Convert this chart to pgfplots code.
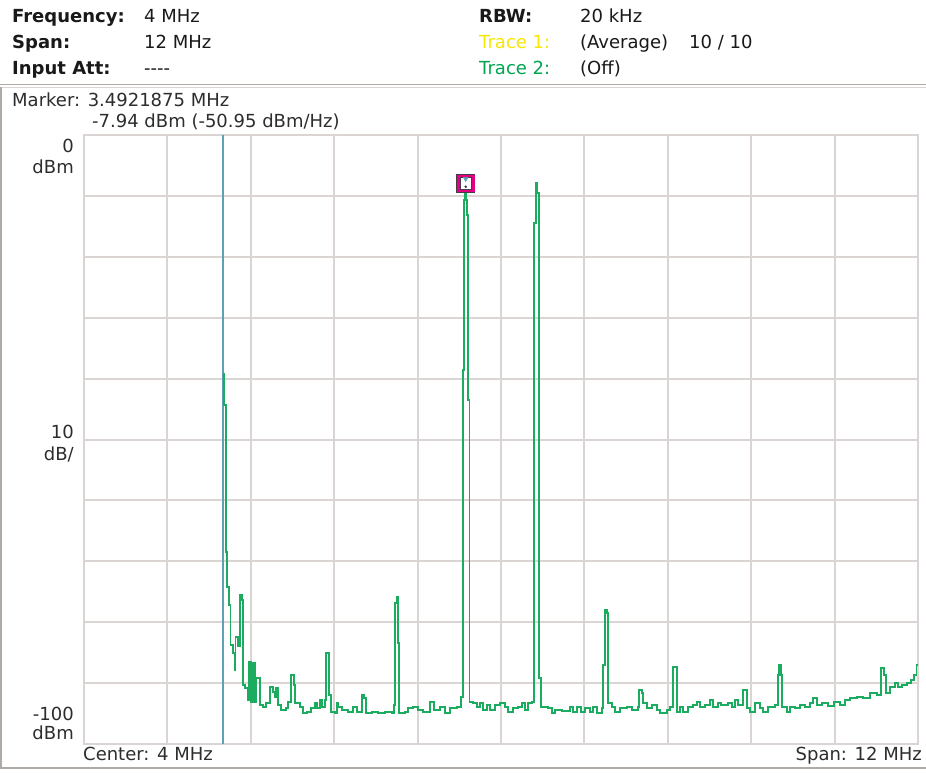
\documentclass[border=0pt]{standalone}
\usepackage{pgfplots}
\pgfplotsset{compat=1.18}
\usepackage{fontspec}
\setmainfont{DejaVu Sans}
\definecolor{gridc}{RGB}{218,213,210}
\definecolor{framec}{RGB}{175,170,166}
\definecolor{tracec}{RGB}{28,172,95}
\definecolor{dccol}{RGB}{95,160,182}
\definecolor{tr1}{RGB}{246,232,0}
\definecolor{tr2}{RGB}{0,165,80}
\definecolor{mkmag}{RGB}{228,0,132}
\definecolor{boxdark}{RGB}{70,60,70}
\definecolor{txt}{RGB}{25,25,25}
\definecolor{txt2}{RGB}{45,45,45}
\begin{document}
\begin{tikzpicture}[x=1pt,y=1pt]
\useasboundingbox (0,0) rectangle (926,772);
\fill[white] (0,0) rectangle (926,772);
\fontsize{18}{21}\selectfont
% header
\begin{scope}[every node/.style={inner sep=0pt,text=txt}]
\node[anchor=base west] at (12,749.5) {\bfseries Frequency:};
\node[anchor=base west] at (144,749.5) {4 MHz};
\node[anchor=base west] at (12,723.5) {\bfseries Span:};
\node[anchor=base west] at (144,723.5) {12 MHz};
\node[anchor=base west] at (12,697.5) {\bfseries Input Att:};
\node[anchor=base west] at (144,697.5) {-{}-{}-{}-};
\node[anchor=base west] at (479,749.5) {\bfseries RBW:};
\node[anchor=base west] at (580,749.5) {20 kHz};
\node[anchor=base west,text=tr1] at (479,723.5) {Trace 1:};
\node[anchor=base west] at (580,723.5) {(Average)};
\node[anchor=base west] at (689,723.5) {10 / 10};
\node[anchor=base west,text=tr2] at (479,697.5) {Trace 2:};
\node[anchor=base west] at (580,697.5) {(Off)};
\end{scope}
% frame
\draw[framec, line width=1pt] (0,687.5) -- (926,687.5);
\draw[gridc, line width=1.2pt] (0,684.5) -- (926,684.5);
\draw[framec, line width=1.5pt] (1,685) -- (1,4) -- (926,4);
% marker text and labels
\begin{scope}[every node/.style={inner sep=0pt,text=txt2}]
\node[anchor=base west] at (12,665.5) {Marker: 3.4921875 MHz};
\node[anchor=base west] at (92,644.5) {-7.94 dBm (-50.95 dBm/Hz)};
\node[anchor=base east] at (74,619) {0};
\node[anchor=base east] at (74,598) {dBm};
\node[anchor=base east] at (74,334) {10};
\node[anchor=base east] at (74,312) {dB/};
\node[anchor=base east] at (74,52) {-100};
\node[anchor=base east] at (74,33) {dBm};
\node[anchor=base west] at (83,12) {Center: 4 MHz};
\node[anchor=base east] at (922,12) {Span: 12 MHz};
\end{scope}
\begin{axis}[
  at={(84pt,28pt)}, anchor=south west,
  scale only axis, width=834pt, height=609pt,
  xmin=-2, xmax=10, ymin=-100, ymax=0,
  xtick={-2,-0.8,0.4,1.6,2.8,4,5.2,6.4,7.6,8.8,10},
  ytick={-100,-90,-80,-70,-60,-50,-40,-30,-20,-10,0},
  xticklabels={}, yticklabels={},
  major tick length=0pt,
  grid=major,
  major grid style={draw=gridc, line width=2pt},
  axis line style={draw=gridc, line width=2pt},
]
\addplot[dccol, line width=1.5pt] coordinates {(0,-100) (0,0)};
\addplot[const plot, tracec, line width=1.8pt] table[row sep=\\] {
x y\\
0 -39.2\\ 0.014 -44.3\\ 0.043 -68.5\\ 0.062 -74.2\\ 0.086 -77.2\\ 0.108 -83.7\\
0.144 -85.1\\ 0.168 -87.8\\ 0.180 -82.4\\ 0.216 -83.9\\ 0.240 -75.5\\ 0.273 -76.4\\
0.288 -90.3\\ 0.317 -90.8\\ 0.360 -92.8\\ 0.374 -86.5\\ 0.403 -93.1\\ 0.432 -86.7\\
0.456 -93.1\\ 0.475 -89.2\\ 0.528 -93.6\\ 0.576 -93.9\\ 0.619 -93.3\\ 0.672 -90.6\\
0.719 -91.5\\ 0.744 -92.3\\ 0.763 -90.8\\ 0.791 -93.6\\ 0.835 -94.4\\ 0.906 -94.1\\
0.935 -93.1\\ 0.978 -88.7\\ 1.022 -90.3\\ 1.036 -93.3\\ 1.108 -93.9\\ 1.151 -94.9\\
1.209 -94.7\\ 1.266 -94.1\\ 1.324 -93.3\\ 1.353 -94.1\\ 1.396 -92.8\\ 1.424 -93.9\\
1.468 -92.8\\ 1.482 -85.1\\ 1.525 -92.0\\ 1.554 -94.7\\ 1.612 -94.9\\ 1.640 -93.3\\
1.655 -93.9\\ 1.712 -94.4\\ 1.799 -94.7\\ 1.871 -93.9\\ 1.928 -94.7\\ 2.000 -92.0\\
2.029 -92.4\\ 2.058 -94.9\\ 2.144 -94.7\\ 2.230 -94.9\\ 2.331 -94.7\\ 2.432 -94.9\\
2.460 -93.6\\ 2.475 -76.8\\ 2.504 -75.9\\ 2.518 -83.4\\ 2.532 -94.9\\ 2.619 -94.7\\
2.662 -94.1\\ 2.734 -93.9\\ 2.806 -94.4\\ 2.878 -94.7\\ 2.978 -93.1\\ 3.036 -94.4\\
3.122 -93.9\\ 3.194 -94.9\\ 3.266 -94.1\\ 3.367 -93.9\\ 3.430 -92.3\\ 3.455 -38.6\\
3.470 -10.7\\ 3.482 -7.94\\ 3.501 -10.7\\ 3.515 -13.1\\ 3.530 -43.5\\ 3.548 -93.1\\
3.597 -93.3\\ 3.655 -93.9\\ 3.698 -93.3\\ 3.741 -94.4\\ 3.799 -93.6\\ 3.842 -94.4\\
3.914 -93.6\\ 3.986 -93.3\\ 4.058 -93.9\\ 4.101 -94.7\\ 4.173 -94.1\\ 4.245 -93.9\\
4.302 -93.3\\ 4.345 -94.4\\ 4.388 -93.3\\ 4.446 -93.1\\ 4.479 -14.5\\ 4.504 -7.8\\
4.522 -9.5\\ 4.544 -89.2\\ 4.576 -93.9\\ 4.676 -94.1\\ 4.734 -94.9\\ 4.777 -94.4\\
4.878 -94.6\\ 4.993 -93.9\\ 5.036 -94.7\\ 5.094 -93.9\\ 5.151 -94.7\\ 5.209 -94.1\\
5.281 -94.7\\ 5.324 -93.9\\ 5.381 -94.9\\ 5.453 -94.1\\ 5.468 -87.0\\ 5.496 -78.0\\
5.525 -78.5\\ 5.540 -93.3\\ 5.597 -93.9\\ 5.640 -94.7\\ 5.712 -94.1\\ 5.813 -93.9\\
5.885 -94.4\\ 5.971 -93.9\\ 5.986 -91.1\\ 6.029 -91.6\\ 6.043 -93.3\\ 6.101 -94.1\\
6.173 -93.6\\ 6.245 -94.4\\ 6.288 -94.9\\ 6.388 -94.4\\ 6.432 -93.9\\ 6.475 -87.4\\
6.532 -94.7\\ 6.576 -93.9\\ 6.619 -94.7\\ 6.691 -93.9\\ 6.763 -93.6\\ 6.820 -93.1\\
6.863 -93.9\\ 6.935 -93.6\\ 7.007 -92.8\\ 7.050 -93.9\\ 7.122 -93.3\\ 7.166 -93.6\\
7.266 -93.3\\ 7.324 -93.9\\ 7.367 -92.8\\ 7.410 -93.6\\ 7.482 -91.1\\ 7.540 -94.1\\
7.583 -94.7\\ 7.655 -93.3\\ 7.727 -94.1\\ 7.770 -94.7\\ 7.842 -93.9\\ 7.942 -93.6\\
7.986 -88.7\\ 8.000 -87.0\\ 8.029 -88.7\\ 8.043 -93.9\\ 8.115 -94.7\\ 8.158 -93.9\\
8.230 -94.1\\ 8.302 -93.6\\ 8.374 -93.9\\ 8.446 -93.3\\ 8.489 -92.4\\ 8.547 -93.6\\
8.619 -93.3\\ 8.705 -93.8\\ 8.791 -93.1\\ 8.878 -93.6\\ 8.950 -92.8\\ 9.022 -92.4\\
9.122 -92.3\\ 9.209 -92.4\\ 9.309 -91.6\\ 9.410 -92.0\\ 9.468 -87.5\\ 9.511 -88.7\\
9.540 -91.6\\ 9.597 -90.6\\ 9.669 -90.0\\ 9.712 -90.6\\ 9.770 -90.3\\ 9.842 -90.0\\
9.899 -89.5\\ 9.942 -88.7\\ 9.978 -87.0\\ 10.0 -87.0\\
};
% marker box
\addplot[only marks, mark=square*, mark size=9pt,
  mark options={draw=boxdark, fill=white, line width=1pt}]
  coordinates {(3.4921875,-7.94)};
\addplot[only marks, mark=square, mark size=7.5pt,
  mark options={draw=mkmag, line width=2.6pt}]
  coordinates {(3.4921875,-7.94)};
\addplot[only marks, mark=square, mark size=5.8pt,
  mark options={draw=boxdark, line width=0.6pt}]
  coordinates {(3.4921875,-7.94)};
\addplot[only marks, mark=triangle*, mark size=2.8pt,
  mark options={draw=dccol, fill=dccol, rotate=180}]
  coordinates {(3.4921875,-7.2)};
\addplot[only marks, mark=*, mark size=1.1pt,
  mark options={draw=boxdark, fill=boxdark}]
  coordinates {(3.4921875,-8.5)};
\end{axis}
\end{tikzpicture}
\end{document}
